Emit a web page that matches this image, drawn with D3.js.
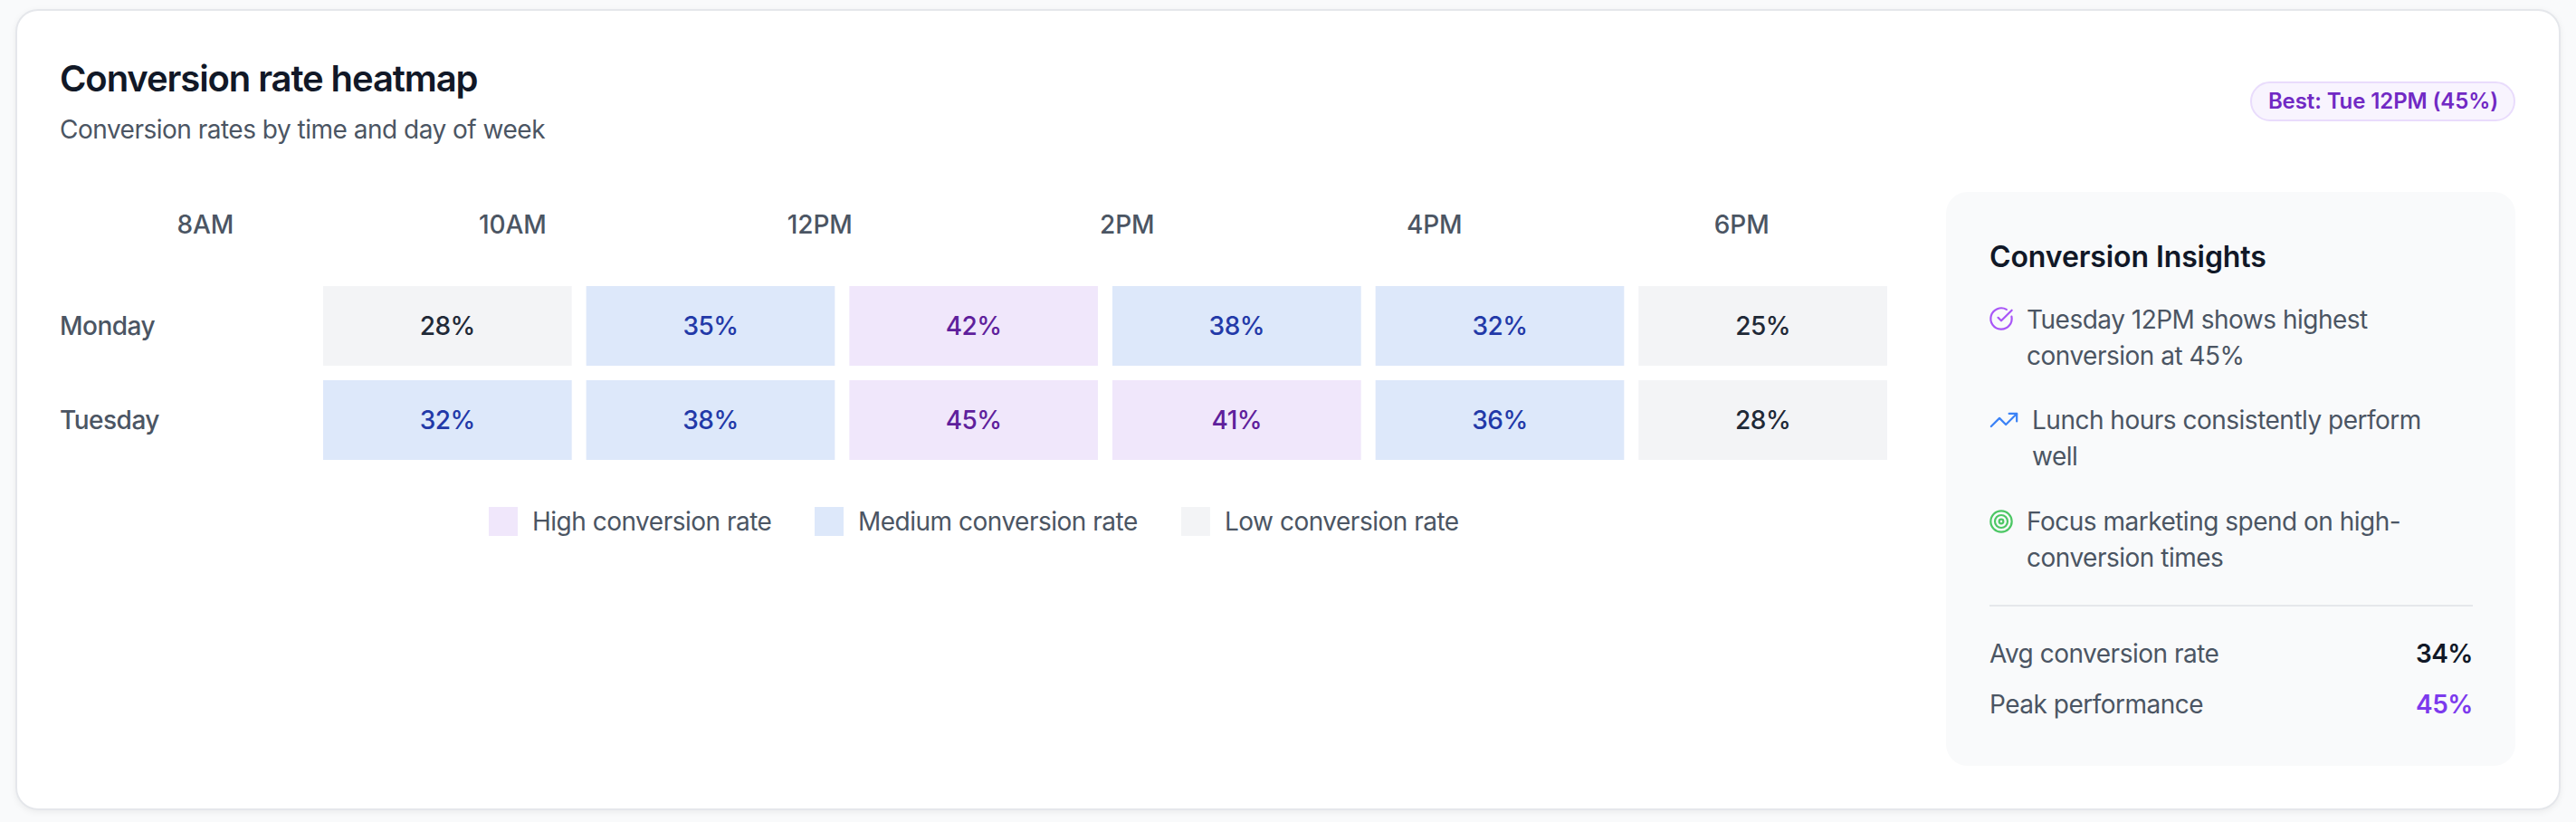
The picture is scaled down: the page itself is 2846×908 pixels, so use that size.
<!DOCTYPE html>
<html>
<head>
<meta charset="utf-8">
<script src="https://cdn.jsdelivr.net/npm/d3@7"></script>
<style>
  html, body { margin: 0; padding: 0; background: #f9fafb; }
  svg { display: block; font-family: Inter, sans-serif; letter-spacing: -0.5px; }
  .card { filter: drop-shadow(0 2px 3px rgba(0,0,0,0.06)); }
  .title { letter-spacing: -1.1px; }
  .flat { letter-spacing: -0.1px; }
</style>
</head>
<body>
<svg id="vis"></svg>
<script>
const hours = ["8AM", "10AM", "12PM", "2PM", "4PM", "6PM"];
const days = ["Monday", "Tuesday"];
const monday = [28, 35, 42, 38, 32, 25];
const tuesday = [32, 38, 45, 41, 36, 28];
const legendLabels = ["High conversion rate", "Medium conversion rate", "Low conversion rate"];
const insightLines = [
    ["Tuesday 12PM shows highest", "conversion at 45%"],
    ["Lunch hours consistently perform", "well"],
    ["Focus marketing spend on high-", "conversion times"]
];
const statLabels = ["Avg conversion rate", "Peak performance"];
const statValues = ["34%", "45%"];

const WIDTH = 2846;
const HEIGHT = 908;
const GRAY = "#4b5563";
const DARK = "#111827";

const svg = d3.select("#vis").attr("width", WIDTH).attr("height", HEIGHT);

function label(g, x, y, str, size, weight, fill, anchor) {
    return g.append("text")
        .attr("x", x).attr("y", y)
        .attr("font-size", size)
        .attr("font-weight", weight)
        .attr("fill", fill)
        .attr("text-anchor", anchor || "start")
        .text(str);
}

// card
svg.append("rect").attr("class", "card")
    .attr("x", 18).attr("y", 11).attr("width", 2810).attr("height", 883).attr("rx", 24)
    .attr("fill", "#fff").attr("stroke", "#e5e7eb").attr("stroke-width", 2);

label(svg, 66, 101, "Conversion rate heatmap", 40, 600, DARK).attr("class", "title");
label(svg, 66, 153, "Conversion rates by time and day of week", 28, 400, GRAY);

// badge
svg.append("rect")
    .attr("x", 2487).attr("y", 91).attr("width", 291).attr("height", 42).attr("rx", 21)
    .attr("fill", "#f8f4fe").attr("stroke", "#e9dcfc").attr("stroke-width", 2);
label(svg, 2633, 120, "Best: Tue 12PM (45%)", 24, 600, "#7129c4", "middle").attr("class", "flat");

// the hour labels sit on their own band, offset from the cells
const xHeader = d3.scaleBand().domain(hours).range([57, 2094]);
const x = d3.scaleBand().domain(hours).range([357, 2085]).paddingInner(16 / 290.7);
const y = d3.scaleBand().domain(days).range([316, 508]).paddingInner(16 / 104);
const tier = d3.scaleThreshold().domain([30, 40]).range(["low", "medium", "high"]);
const fillOf = { high: "#f0e7fb", medium: "#dde8fa", low: "#f3f4f6" };
const textOf = { high: "#5f1f9c", medium: "#2239a8", low: "#1f2937" };

svg.append("g").selectAll("text").data(hours).join("text")
    .attr("class", "flat")
    .attr("x", d => xHeader(d) + xHeader.bandwidth() / 2)
    .attr("y", 258)
    .attr("text-anchor", "middle")
    .attr("font-size", 28).attr("font-weight", 500).attr("fill", GRAY)
    .text(d => d);

const rows = [monday, tuesday];
days.forEach((day, r) => {
    const g = svg.append("g");
    label(g, 66, y(day) + 54, day, 28, 500, GRAY);
    const cell = g.selectAll("g").data(rows[r]).join("g");
    cell.append("rect")
        .attr("x", (d, i) => x(hours[i]))
        .attr("y", y(day))
        .attr("width", x.bandwidth())
        .attr("height", y.bandwidth())
        .attr("fill", d => fillOf[tier(d)]);
    cell.append("text")
        .attr("x", (d, i) => x(hours[i]) + x.bandwidth() / 2)
        .attr("y", y(day) + 54)
        .attr("text-anchor", "middle")
        .attr("font-size", 28).attr("font-weight", 500)
        .attr("fill", d => textOf[tier(d)])
        .text(d => d + "%");
});

// legend
const legendX = [540, 900, 1305];
const legendFill = [fillOf.high, fillOf.medium, fillOf.low];
legendLabels.forEach((str, i) => {
    svg.append("rect").attr("x", legendX[i]).attr("y", 560).attr("width", 32).attr("height", 32).attr("fill", legendFill[i]);
    label(svg, legendX[i] + 48, 586, str, 28, 400, GRAY);
});

// insights panel
const panel = svg.append("g");
panel.append("rect")
    .attr("x", 2150).attr("y", 212).attr("width", 629).attr("height", 634).attr("rx", 24)
    .attr("fill", "#f9fafb");
label(panel, 2198, 295, "Conversion Insights", 32, 600, DARK).attr("class", "flat");

function icon(x0, y0, scale, stroke, draw) {
    const g = panel.append("g")
        .attr("transform", `translate(${x0},${y0}) scale(${scale})`)
        .attr("fill", "none").attr("stroke", stroke)
        .attr("stroke-width", 2 * 1.1 / scale).attr("stroke-linecap", "round").attr("stroke-linejoin", "round");
    draw(g);
}
icon(2197, 338, 28 / 24, "#a855f7", g => {
    g.append("path").attr("d", "M21.801 10A10 10 0 1 1 17 3.335");
    g.append("path").attr("d", "m9 11 3 3L22 4");
});
icon(2197, 447, 34 / 24, "#3b82f6", g => {
    g.append("path").attr("d", "M16 7h6v6");
    g.append("path").attr("d", "m22 7-8.5 8.5-5-5L2 17");
});
icon(2197, 562, 28 / 24, "#4cc764", g => {
    [10, 6, 2].forEach(r => g.append("circle").attr("cx", 12).attr("cy", 12).attr("r", r));
});

const insightX = [2239, 2245, 2239];
const insightY = [363, 474, 586];
insightLines.forEach((lines, i) => {
    lines.forEach((str, j) => label(panel, insightX[i], insightY[i] + j * 40, str, 28, 400, GRAY));
});

panel.append("line").attr("x1", 2198).attr("x2", 2732).attr("y1", 669).attr("y2", 669)
    .attr("stroke", "#e5e7eb").attr("stroke-width", 2);

const statY = [732, 788];
const statFill = [DARK, "#7c3aed"];
statLabels.forEach((str, i) => {
    label(panel, 2198, statY[i], str, 28, 400, GRAY);
    label(panel, 2732, statY[i], statValues[i], 28, 600, statFill[i], "end");
});
</script>
</body>
</html>
